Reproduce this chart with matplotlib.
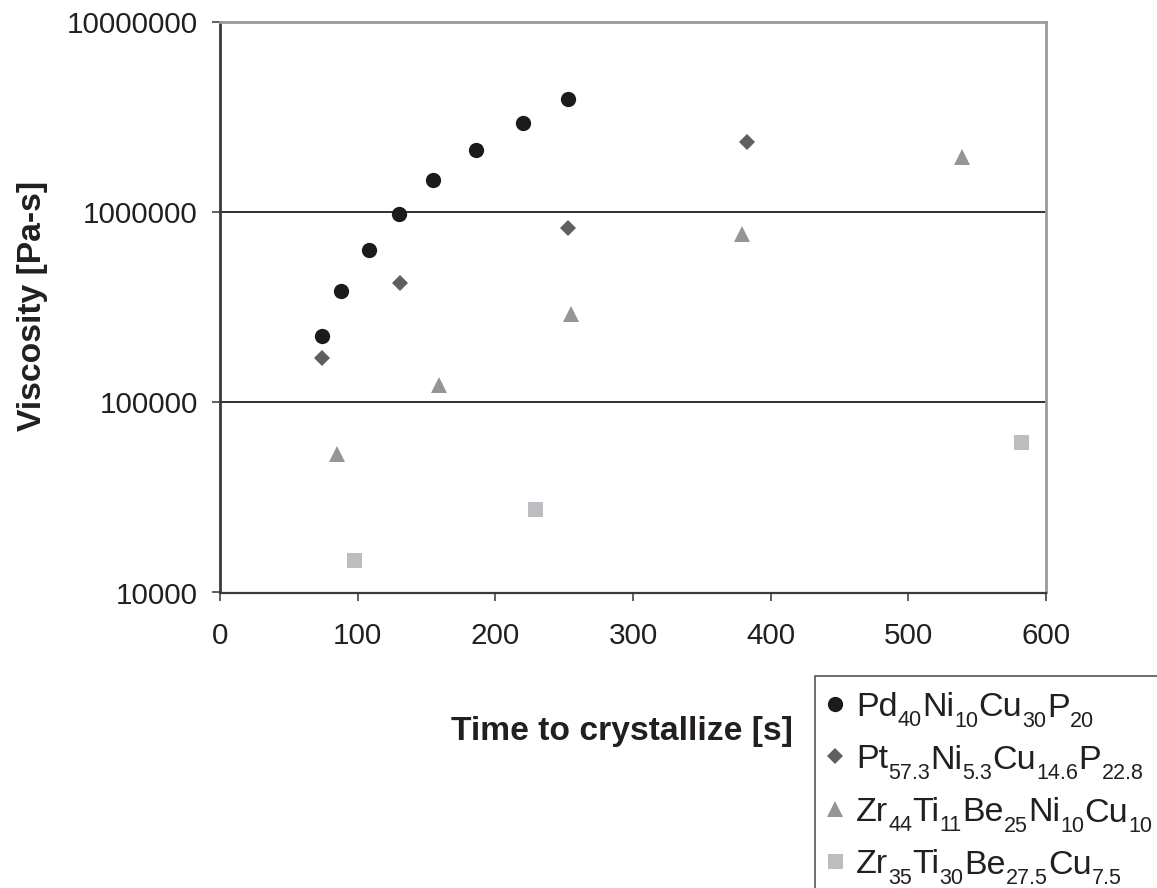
import matplotlib
matplotlib.use("Agg")
import matplotlib.pyplot as plt
from matplotlib.ticker import FixedLocator, FuncFormatter
from matplotlib.text import Annotation
from matplotlib.patches import Rectangle

plt.rcParams['font.family'] = ['Liberation Sans', 'DejaVu Sans']

# time to crystallize [s] and viscosity [Pa-s]
pd_time = [74, 88, 108, 130, 155, 186, 220, 253]
pd_visc = [223000, 384000, 631000, 980000, 1470000, 2110000, 2930000, 3920000]

pt_time = [74, 131, 253, 383]
pt_visc = [171000, 423000, 827000, 2330000]

zrni_time = [85, 159, 255, 379, 539]
zrni_visc = [53700, 124000, 293000, 766000, 1950000]

zrcu_time = [97, 229, 582]
zrcu_visc = [14900, 27600, 61600]

# alloy names: element symbols and their subscripts
pd_elems, pd_subs = ['Pd', 'Ni', 'Cu', 'P'], ['40', '10', '30', '20']
pt_elems, pt_subs = ['Pt', 'Ni', 'Cu', 'P'], ['57.3', '5.3', '14.6', '22.8']
zrni_elems, zrni_subs = ['Zr', 'Ti', 'Be', 'Ni', 'Cu'], ['44', '11', '25', '10', '10']
zrcu_elems, zrcu_subs = ['Zr', 'Ti', 'Be', 'Cu'], ['35', '30', '27.5', '7.5']

y_ticks = [10000, 100000, 1000000, 10000000]
x_ticks = [0, 100, 200, 300, 400, 500, 600]

txt = '#231f20'

fig = plt.figure(figsize=(11.57, 8.88), dpi=100)
ax = fig.add_axes([220 / 1157, 1 - 592.5 / 888, (1046 - 220) / 1157, (592.5 - 22) / 888])

ax.set_yscale('log')
ax.set_xlim(0, 600)
ax.set_ylim(10000, 10000000)

# horizontal gridlines only at the inner decades
for v in y_ticks[1:-1]:
    ax.axhline(v, color=txt, lw=1.3, zorder=1)

h1, = ax.plot(pd_time, pd_visc, 'o', ms=11, mew=0, color='#1c1a1b', zorder=3)
h2, = ax.plot(pt_time, pt_visc, 'D', ms=8.4, mew=0, color='#5f5f5f', zorder=3)
h3, = ax.plot(zrni_time, zrni_visc, '^', ms=11.5, mew=0, color='#959595', zorder=3)
h4, = ax.plot(zrcu_time, zrcu_visc, 's', ms=10.8, mew=0, color='#bdbdc1', zorder=3)

ax.yaxis.set_major_locator(FixedLocator(y_ticks))
ax.yaxis.set_minor_locator(FixedLocator([]))
ax.yaxis.set_major_formatter(FuncFormatter(lambda v, p: '%d' % round(v)))
ax.set_xticks(x_ticks)

ax.tick_params(axis='y', direction='out', length=6, width=1.2, color='#444444',
               labelsize=21.3, labelcolor=txt, pad=10)
ax.tick_params(axis='x', direction='out', length=6, width=1.2, color='#444444',
               labelsize=21.3, labelcolor=txt, pad=15)

ax.spines['left'].set_color('#3a3a3a')
ax.spines['left'].set_linewidth(2)
ax.spines['bottom'].set_color('#3a3a3a')
ax.spines['bottom'].set_linewidth(1.6)
ax.spines['top'].set_color('#9a9a9a')
ax.spines['top'].set_linewidth(2)
ax.spines['right'].set_color('#9a9a9a')
ax.spines['right'].set_linewidth(2)

fig.text(33 / 1157, 1 - 306 / 888, 'Viscosity [Pa-s]', rotation=90, fontsize=24.2,
         fontweight='bold', color=txt, ha='center', va='center')
fig.text(622 / 1157, 1 - 740 / 888, 'Time to crystallize [s]', fontsize=24.2,
         fontweight='bold', color=txt, ha='center', va='baseline')

# legend: handles + first element, the rest of each formula is chained after it
main_fs = 24.5
sub_fs = 15.5
drop = 7.7            # subscript baseline drop, points
d_main = 0.212 * main_fs
d_sub = 0.212 * sub_fs

all_elems = [pd_elems, pt_elems, zrni_elems, zrcu_elems]
all_subs = [pd_subs, pt_subs, zrni_subs, zrcu_subs]

leg = fig.legend([h1, h2, h3, h4], [e[0] for e in all_elems],
                 loc='upper left', bbox_to_anchor=(815 / 1157, 1 - 682 / 888),
                 prop={'size': main_fs}, frameon=False, borderaxespad=0,
                 borderpad=0.29, handlelength=0.6, handletextpad=0.31,
                 labelspacing=0.63)
for t in leg.get_texts():
    t.set_color(txt)

for first, elems, subs in zip(leg.get_texts(), all_elems, all_subs):
    prev = first
    for k in range(len(elems)):
        if k > 0:
            a = Annotation(elems[k], xy=(1, 0), xycoords=prev,
                           xytext=(0.2, drop + d_sub), textcoords='offset points',
                           fontsize=main_fs, va='baseline', ha='left', color=txt, zorder=6)
            fig.add_artist(a)
            prev = a
        a = Annotation(subs[k], xy=(1, 0), xycoords=prev,
                       xytext=(0.2, d_main - drop), textcoords='offset points',
                       fontsize=sub_fs, va='baseline', ha='left', color=txt, zorder=6)
        fig.add_artist(a)
        prev = a

frame = Rectangle((815 / 1157, -0.05), 0.4, 1 - 676 / 888 + 0.05,
                  transform=fig.transFigure, fill=False, ec='#555555', lw=1.2)
fig.add_artist(frame)

fig.savefig('out.png', dpi=100)
